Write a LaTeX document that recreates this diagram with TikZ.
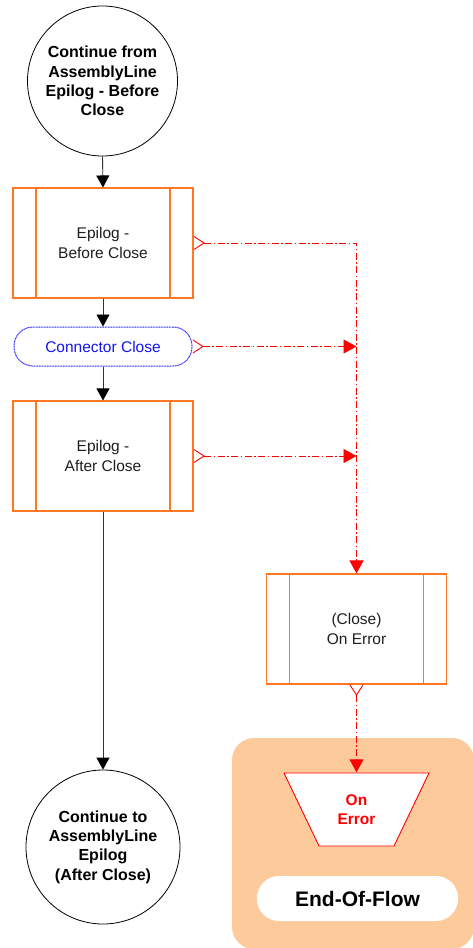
\documentclass[tikz,border=0pt]{standalone}
\usepackage{fontspec}
\setmainfont{Liberation Sans}
\usetikzlibrary{arrows.meta}

\definecolor{procorange}{RGB}{255,118,36}
\definecolor{errred}{RGB}{255,0,0}
\definecolor{peach}{RGB}{253,203,155}
\definecolor{connblue}{RGB}{40,40,255}
\definecolor{conntext}{RGB}{20,20,235}
\definecolor{textgray}{RGB}{30,30,30}

\begin{document}
\begin{tikzpicture}[x=1pt,y=-1pt,
  termcircle/.style={circle, draw=black, line width=0.8pt,
    inner sep=0pt, align=center, font=\fontsize{16}{19.3}\selectfont\bfseries},
  procbox/.style={rectangle, draw=procorange, line width=1.1pt,
    minimum width=180pt, minimum height=110pt, inner sep=0pt, align=center,
    text=textgray, font=\fontsize{15.5}{20}\selectfont,
    path picture={\draw[procorange, line width=1.1pt]
      ([xshift=23pt]path picture bounding box.north west) --
      ([xshift=23pt]path picture bounding box.south west)
      ([xshift=-23pt]path picture bounding box.north east) --
      ([xshift=-23pt]path picture bounding box.south east);}},
  connbox/.style={rectangle, draw=connblue, line width=1pt,
    dash pattern=on 1pt off 0.6pt, rounded corners=19pt,
    minimum width=178pt, minimum height=39pt, inner sep=0pt,
    text=conntext, font=\fontsize{15.5}{19}\selectfont},
  % manual-operation style trapezoid, wide edge on top
  endtrap/.style={rectangle, minimum width=146pt, minimum height=74pt,
    inner sep=0pt, align=center,
    text=errred, font=\fontsize{15.5}{18.5}\selectfont\bfseries,
    path picture={\filldraw[errred, fill=white, line width=0.9pt]
      ([shift={(0.5pt,-0.5pt)}]path picture bounding box.north west) --
      ([shift={(-0.5pt,-0.5pt)}]path picture bounding box.north east) --
      ([shift={(-35.5pt,0.5pt)}]path picture bounding box.south east) --
      ([shift={(35.5pt,0.5pt)}]path picture bounding box.south west) -- cycle;}},
  pill/.style={rectangle, rounded corners=22pt, fill=white,
    minimum width=201pt, minimum height=45pt, inner sep=0pt,
    font=\fontsize{21}{24}\selectfont\bfseries},
  flowline/.style={draw=black!80, line width=0.9pt,
    -{Triangle[length=12pt,width=13pt,color=black]}},
  errline/.style={draw=errred, line width=0.9pt,
    dash pattern=on 7pt off 2.5pt on 1.5pt off 2.5pt,
    {Straight Barb[reversed,length=10pt,width=13pt,line width=0.9pt]}-{Triangle[length=13pt,width=14pt]}}
]
\useasboundingbox (0,0) rectangle (473,948);

% end-of-flow area
\begin{scope}
  \clip (0,0) rectangle (473,948);
  \fill[peach, rounded corners=22pt] (232,738) rectangle (474,949);
\end{scope}

% main column
\node[termcircle, minimum size=150pt] (start) at (102.5,81) {Continue from\\AssemblyLine\\Epilog - Before\\Close};
\node[procbox] (b1) at (103,243) {Epilog -\\Before Close};
\node[connbox] (conn) at (103,346.5) {Connector Close};
\node[procbox] (b2) at (103,456) {Epilog -\\After Close};
\node[termcircle, minimum size=154pt] (fin) at (103,847) {Continue to\\AssemblyLine\\Epilog\\(After Close)};

% error branch
\node[procbox] (err) at (356.5,629) {(Close)\\On Error};
\node[endtrap] (onerr) at (356.5,809.5) {On\\Error};
\node[pill] (eof) at (357.5,898.5) {End-Of-Flow};

% normal flow
\draw[flowline] (start.south) -- (b1.north);
\draw[flowline] (b1.south) -- (conn.north);
\draw[flowline] (conn.south) -- (b2.north);
\draw[flowline] (b2.south) -- (b2.south |- fin.north);

% error flow
\coordinate (j1) at (err.north |- b1.east);
\coordinate (j2) at (err.north |- conn.east);
\coordinate (j3) at (err.north |- b2.east);
\draw[errline] (b1.east) -- (j1) -- (err.north);
\draw[errline] (conn.east) -- (j2);
\draw[errline] (b2.east) -- (j3);
\draw[errline] (err.south) -- (onerr.north);
\end{tikzpicture}
\end{document}
